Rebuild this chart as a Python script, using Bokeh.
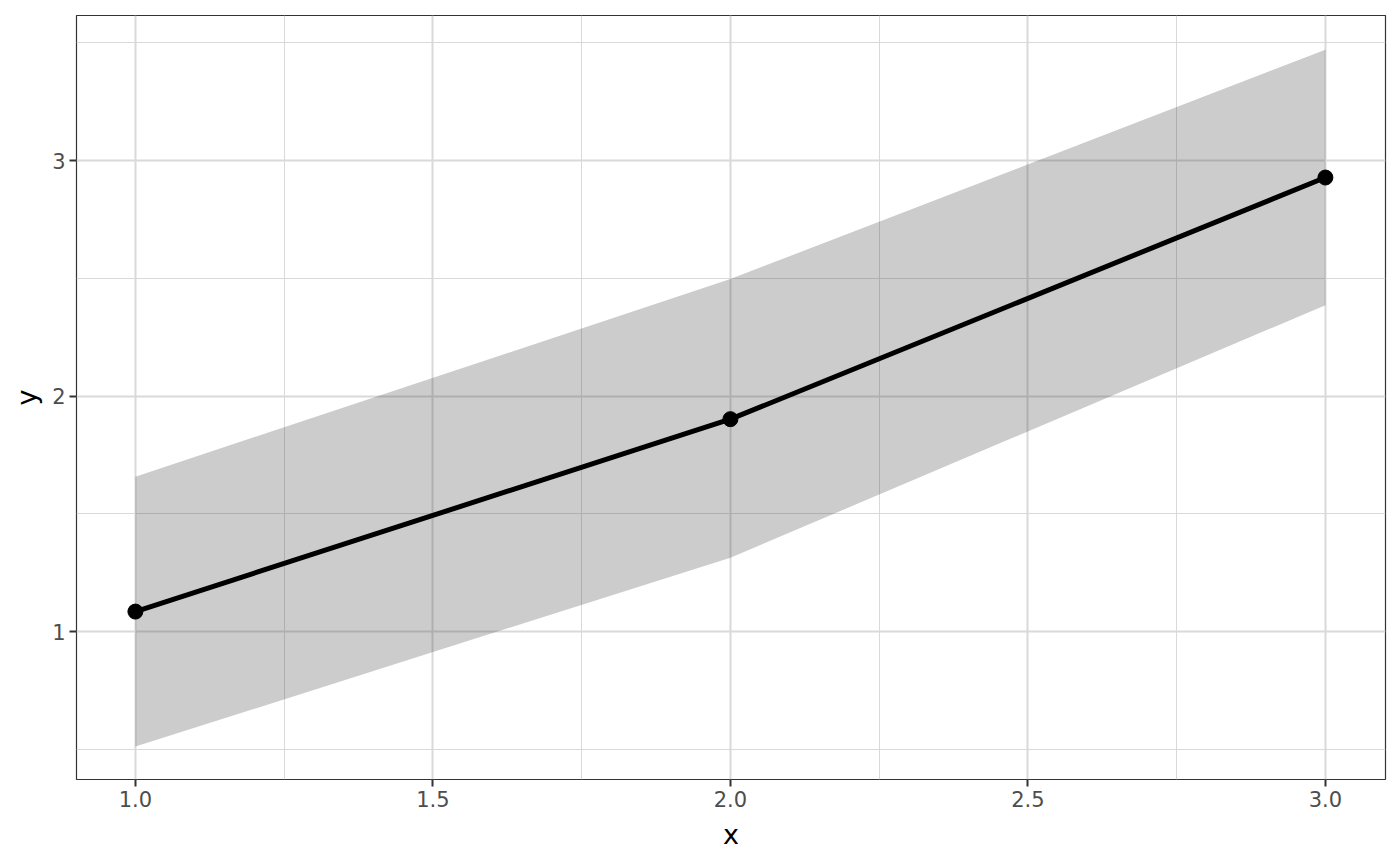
from bokeh.embed import file_html
from bokeh.models import FixedTicker, Range1d
from bokeh.plotting import figure
from bokeh.resources import INLINE

# data
xs = [1, 2, 3]
ys = [1.085, 1.902, 2.928]
lower = [0.512, 1.314, 2.386]
upper = [1.658, 2.497, 3.471]

x_ticks = [1.0, 1.5, 2.0, 2.5, 3.0]
x_minor = [1.25, 1.75, 2.25, 2.75]
x_labels = ["1.0", "1.5", "2.0", "2.5", "3.0"]
y_ticks = [1, 2, 3]
y_minor = [0.5, 1.5, 2.5, 3.5]
y_labels = ["1", "2", "3"]

FONT = "DejaVu Sans"

p = figure(width=1392, height=858, output_backend="svg", toolbar_location=None,
           x_range=Range1d(0.901, 3.101), y_range=Range1d(0.372, 3.616),
           x_axis_label="x", y_axis_label="y",
           min_border_left=76, min_border_right=7, min_border_top=15, min_border_bottom=79)

p.varea(x=xs, y1=lower, y2=upper, fill_color="#333333", fill_alpha=0.25)
p.line(xs, ys, line_color="black", line_width=5)
p.scatter(xs, ys, size=15, color="black")

p.xaxis.ticker = FixedTicker(ticks=x_ticks, minor_ticks=x_minor)
p.yaxis.ticker = FixedTicker(ticks=y_ticks, minor_ticks=y_minor)
p.xaxis.major_label_overrides = dict(zip(x_ticks, x_labels))
p.yaxis.major_label_overrides = dict(zip(y_ticks, y_labels))

for ax in (p.xaxis, p.yaxis):
    ax.axis_line_color = None
    ax.major_tick_line_color = "#333333"
    ax.major_tick_line_width = 2
    ax.major_tick_out = 7
    ax.major_tick_in = 0
    ax.minor_tick_line_color = None
    ax.major_label_text_font = FONT
    ax.major_label_text_font_size = "21px"
    ax.major_label_text_color = "#4D4D4D"
    ax.major_label_standoff = 4
    ax.axis_label_text_font = FONT
    ax.axis_label_text_font_size = "27px"
    ax.axis_label_text_font_style = "normal"
    ax.axis_label_text_color = "black"

p.xaxis.axis_label_standoff = 9
p.yaxis.axis_label_standoff = 7

p.grid.grid_line_color = "#D9D9D9"
p.grid.grid_line_width = 2
p.grid.minor_grid_line_color = "#D9D9D9"
p.grid.minor_grid_line_width = 1

p.outline_line_color = "#333333"
p.outline_line_width = 1.2
p.background_fill_color = "white"
p.border_fill_color = "white"

open("out.html", "w").write(file_html(p, INLINE))
